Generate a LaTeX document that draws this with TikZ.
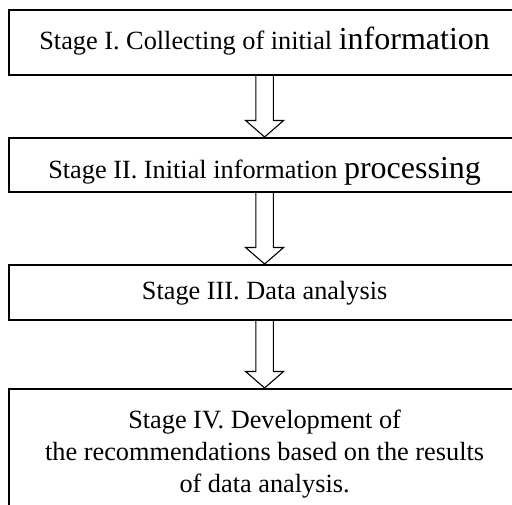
\documentclass[tikz,border=0pt]{standalone}
\usepackage{fontspec}
\setmainfont{Liberation Serif}
\usetikzlibrary{calc}
\newcommand\bigword[1]{{\fontsize{32}{38}\selectfont #1}}
\tikzset{
  stagebox/.style={draw, line width=1.6pt, minimum width=511.6pt, inner xsep=0pt, inner ysep=0pt,
    anchor=north west, font=\fontsize{26.3}{32}\selectfont, align=center},
  arrowline/.style={draw, line width=1.1pt, line join=miter},
}
\newcommand\blockarrow[2]{%
  \draw[arrowline] let \p1=(#1.south), \p2=(#2.north) in
    (\x1-8.7pt,\y1) -- (\x1-8.7pt,\y2+16.5pt) -- (\x1-19pt,\y2+16.5pt) -- (\x1,\y2)
    -- (\x1+19pt,\y2+16.5pt) -- (\x1+8.7pt,\y2+16.5pt) -- (\x1+8.7pt,\y1);}
\begin{document}
\begin{tikzpicture}[x=1pt,y=1pt]
\useasboundingbox (0,0) rectangle (512,505);
\clip (0,0) rectangle (512,505);
\fill[white] (0,0) rectangle (512,505);
\node[stagebox, text height=40pt, text depth=25pt] (s1) at (8,496)
  {Stage I. Collecting of initial \bigword{information}};
\node[stagebox, text height=41pt, text depth=13pt] (s2) at (8,368)
  {Stage II. Initial information \bigword{processing}};
\node[stagebox, text height=35pt, text depth=20pt] (s3) at (8,241)
  {Stage III. Data analysis};
\node[stagebox, inner ysep=21pt] (s4) at (8,117)
  {Stage IV. Development of\\the recommendations based on the results\\of data analysis.};
\blockarrow{s1}{s2}
\blockarrow{s2}{s3}
\blockarrow{s3}{s4}
\end{tikzpicture}
\end{document}
